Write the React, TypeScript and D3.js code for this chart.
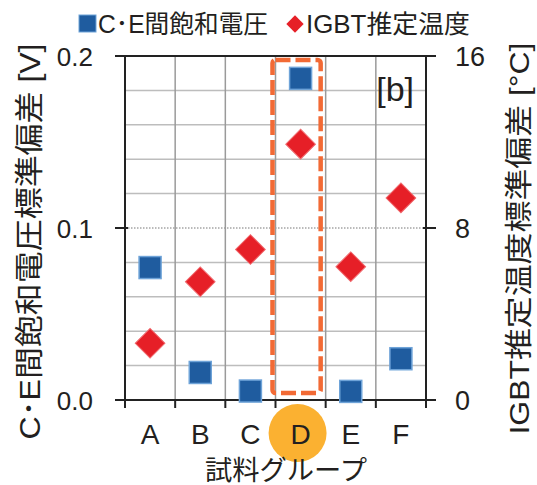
import React from "react";
import * as d3 from "d3";

const categories = ["A", "B", "C", "D", "E", "F"];
const ceVoltageStd = [0.077, 0.016, 0.0052, 0.187, 0.005, 0.024];
const igbtTempStd = [2.64, 5.5, 7.0, 11.9, 6.2, 9.4];
const leftTicks = [0, 0.1, 0.2];
const leftTickLabels = ["0.0", "0.1", "0.2"];
const rightTicks = [0, 8, 16];
const gridValues = [0.02, 0.04, 0.06, 0.08, 0.12, 0.14, 0.16, 0.18];
const highlight = "D";

const W = 537;
const H = 485;
const LEFT = 125;
const RIGHT = 426;
const TOP = 56;
const BOTTOM = 400;
const FONT = "'Liberation Sans', Arial, 'Noto Sans CJK JP', sans-serif";
const TXT = "#231F20";

export default function App() {
  const xs = d3.scaleBand<string>().domain(categories).range([LEFT, RIGHT]);
  const yL = d3.scaleLinear().domain([0, 0.2]).range([BOTTOM, TOP]);
  const yR = d3.scaleLinear().domain([0, 16]).range([BOTTOM, TOP]);
  const bw = xs.bandwidth();
  const cx = (c: string) => (xs(c) as number) + bw / 2;
  const diamond = d3.symbol().type(d3.symbolSquare).size(440)() as string;
  const boundaries = categories.map((c) => xs(c) as number).concat([RIGHT]);

  return (
    <svg
      width={W}
      height={H}
      style={{ position: "fixed", left: 0, top: 0, background: "#fff" }}
      fontFamily={FONT}
    >
      <rect x={0} y={0} width={W} height={H} fill="#fff" />
      {/* horizontal grid */}
      {gridValues.map((v) => (
        <line key={v} x1={LEFT} x2={RIGHT} y1={yL(v)} y2={yL(v)} stroke="#BDBDBD" strokeWidth={1.5} />
      ))}
      <line x1={LEFT} x2={RIGHT} y1={yL(0.1)} y2={yL(0.1)} stroke="#777" strokeWidth={1} strokeDasharray="1.5,1.5" />
      {/* vertical grid */}
      {boundaries.slice(1, -1).map((b, i) => (
        <line key={i} x1={b} x2={b} y1={TOP} y2={BOTTOM} stroke="#9A9A9A" strokeWidth={1.5} />
      ))}
      {/* axes */}
      <line x1={LEFT - 10} x2={RIGHT + 10} y1={TOP} y2={TOP} stroke="#222" strokeWidth={2} />
      <line x1={LEFT} x2={RIGHT} y1={BOTTOM} y2={BOTTOM} stroke="#222" strokeWidth={2} />
      <line x1={LEFT} x2={LEFT} y1={TOP} y2={BOTTOM + 1} stroke="#222" strokeWidth={2} />
      <line x1={RIGHT} x2={RIGHT} y1={TOP} y2={BOTTOM + 1} stroke="#222" strokeWidth={2} />
      {leftTicks.map((t) => (
        <line key={t} x1={LEFT - 10} x2={LEFT + 3} y1={yL(t)} y2={yL(t)} stroke="#222" strokeWidth={2} />
      ))}
      {rightTicks.map((t) => (
        <line key={t} x1={RIGHT - 3} x2={RIGHT + 10} y1={yR(t)} y2={yR(t)} stroke="#222" strokeWidth={2} />
      ))}
      {boundaries.map((b, i) => (
        <line key={i} x1={b} x2={b} y1={BOTTOM} y2={BOTTOM + 8} stroke="#222" strokeWidth={2} />
      ))}
      {/* tick labels */}
      {leftTicks.map((t, i) => (
        <text key={t} x={93} y={yL(t) + 10} textAnchor="end" fontSize={26} fill={TXT}>
          {leftTickLabels[i]}
        </text>
      ))}
      {rightTicks.map((t) => (
        <text key={t} x={455} y={yR(t) + 10} textAnchor="start" fontSize={27} fill={TXT}>
          {t}
        </text>
      ))}
      {/* highlight circle */}
      <circle cx={cx(highlight) - 3} cy={433} r={29} fill="#FBB131" />
      {categories.map((c) => (
        <text key={c} x={cx(c)} y={444} textAnchor="middle" fontSize={28} fill={TXT}>
          {c}
        </text>
      ))}
      <text x={286} y={480} textAnchor="middle" fontSize={27} fill={TXT} textLength={162} lengthAdjust="spacingAndGlyphs">
        試料グループ
      </text>
      {/* axis titles */}
      <text
        transform={`translate(40, 241.5) rotate(-90)`}
        textAnchor="middle"
        fontSize={29}
        fill={TXT}
        textLength={396}
        lengthAdjust="spacingAndGlyphs"
      >
        C･E間飽和電圧標準偏差 [V]
      </text>
      <text
        transform={`translate(529, 238.5) rotate(-90)`}
        textAnchor="middle"
        fontSize={28}
        fill={TXT}
        textLength={392}
        lengthAdjust="spacingAndGlyphs"
      >
        IGBT推定温度標準偏差 [°C]
      </text>
      {/* [b] */}
      <text x={414} y={101} textAnchor="end" fontSize={34} fill={TXT}>
        [b]
      </text>
      {/* highlight dashed rect */}
      <rect
        x={(xs(highlight) as number) - 3}
        y={TOP + 4}
        width={bw - 2}
        height={BOTTOM - TOP - 11}
        rx={3}
        fill="none"
        stroke="#F26A35"
        strokeWidth={4.5}
        strokeDasharray="15,5"
      />
      {/* points */}
      {categories.map((c, i) => (
        <path
          key={"t" + c}
          d={diamond}
          transform={`translate(${cx(c)}, ${yR(igbtTempStd[i])}) rotate(45)`}
          fill="#E61F27"
          stroke="#F06A6E"
          strokeWidth={1}
        />
      ))}
      {categories.map((c, i) => (
        <rect
          key={"v" + c}
          x={cx(c) - 11}
          y={yL(ceVoltageStd[i]) - 11}
          width={22}
          height={22}
          fill="#1F5C9F"
          stroke="#6EA3D8"
          strokeWidth={1.5}
        />
      ))}
      {/* legend */}
      <rect x={79} y={15} width={17} height={17} fill="#1F5C9F" stroke="#6EA3D8" strokeWidth={1} />
      <text x={98} y={33} fontSize={25} fill={TXT} textLength={170} lengthAdjust="spacingAndGlyphs">
        C･E間飽和電圧
      </text>
      <path
        d={d3.symbol().type(d3.symbolSquare).size(150)() as string}
        transform="translate(295, 24) rotate(45)"
        fill="#E61F27"
      />
      <text x={306} y={33} fontSize={25} fill={TXT} textLength={164} lengthAdjust="spacingAndGlyphs">
        IGBT推定温度
      </text>
    </svg>
  );
}
